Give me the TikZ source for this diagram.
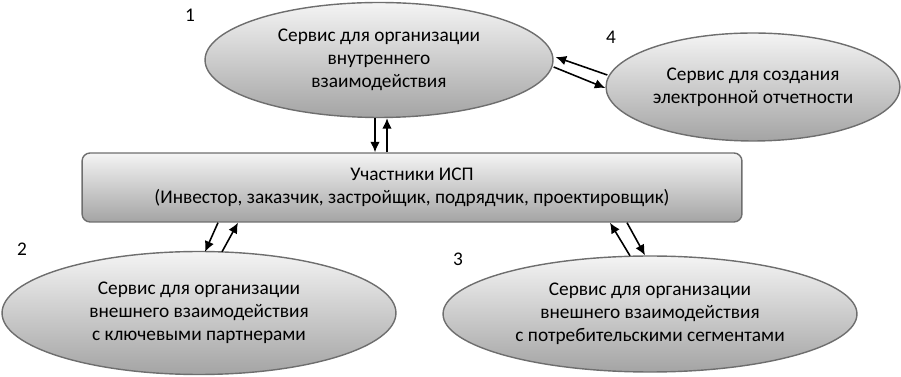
\documentclass[tikz,border=0pt]{standalone}
\usepackage{fontspec}
\setmainfont{Carlito}
\usepackage{tikz}
\usetikzlibrary{arrows.meta, calc, shapes.geometric}
\definecolor{shadetop}{HTML}{F4F4F4}
\definecolor{shadebot}{HTML}{A4A4A4}
\definecolor{rim}{HTML}{6E6E6E}

\begin{document}
\begin{tikzpicture}[x=0.02cm, y=-0.02cm, >={Latex[length=6pt,width=5.5pt]},
  service/.style={ellipse, draw=rim, line width=0.8pt, top color=shadetop,
    bottom color=shadebot, align=center, inner sep=0pt,
    font=\fontsize{11}{13}\selectfont},
  members/.style={rectangle, rounded corners=0.16cm, draw=rim, line width=0.8pt,
    top color=shadetop, bottom color=shadebot, align=center,
    font=\fontsize{11}{13}\selectfont},
  num/.style={font=\fontsize{11}{13}\selectfont},
  link/.style={->, line width=0.9pt}]
  \useasboundingbox (0,0) rectangle (901,377);

  \node[service, minimum width=6.96cm, minimum height=2.30cm] (inner) at (379,60)
    {Сервис для организации\\внутреннего\\взаимодействия};
  \node[service, minimum width=5.88cm, minimum height=2.16cm] (report) at (753,87)
    {Сервис для создания\\электронной отчетности};
  \node[members, minimum width=13.2cm, minimum height=1.38cm] (isp) at (412,187.5)
    {Участники ИСП\\(Инвестор, заказчик, застройщик, подрядчик, проектировщик)};
  \node[service, minimum width=7.88cm, minimum height=2.46cm] (partners) at (199,313)
    {Сервис для организации\\внешнего взаимодействия\\с ключевыми партнерами};
  \node[service, minimum width=8.28cm, minimum height=2.32cm] (consumers) at (650,314)
    {Сервис для организации\\внешнего взаимодействия\\с потребительскими сегментами};

  \node[num] (n1) at (190,15) {1};
  \node[num] (n2) at (22,249) {2};
  \node[num] (n3) at (458,259) {3};
  \node[num] (n4) at (611,37) {4};

  % inner <-> participants
  \draw[link] ($(inner.south)+(-4,0)$) -- ($(isp.north)+(-37,0)$);
  \draw[link] ($(isp.north)+(-25,0)$) -- ($(inner.south)+(8,0)$);

  % inner <-> reporting
  \draw[link] ($(report.west)+(2,-12)$) -- ($(inner.east)+(2,-3)$);
  \draw[link] ($(inner.east)+(0,7)$) -- ($(report.west)+(0,1)$);

  % participants <-> partners
  \draw[link] ($(isp.south)+(-194,0)$) -- ($(partners.north)+(6,1)$);
  \draw[link] ($(partners.north)+(23,1)$) -- ($(isp.south)+(-174,0)$);

  % participants <-> consumers
  \draw[link] ($(consumers.north)+(-20,0.5)$) -- ($(isp.south)+(198,0)$);
  \draw[link] ($(isp.south)+(215,0)$) -- ($(consumers.north)+(-5,0)$);
\end{tikzpicture}
\end{document}
